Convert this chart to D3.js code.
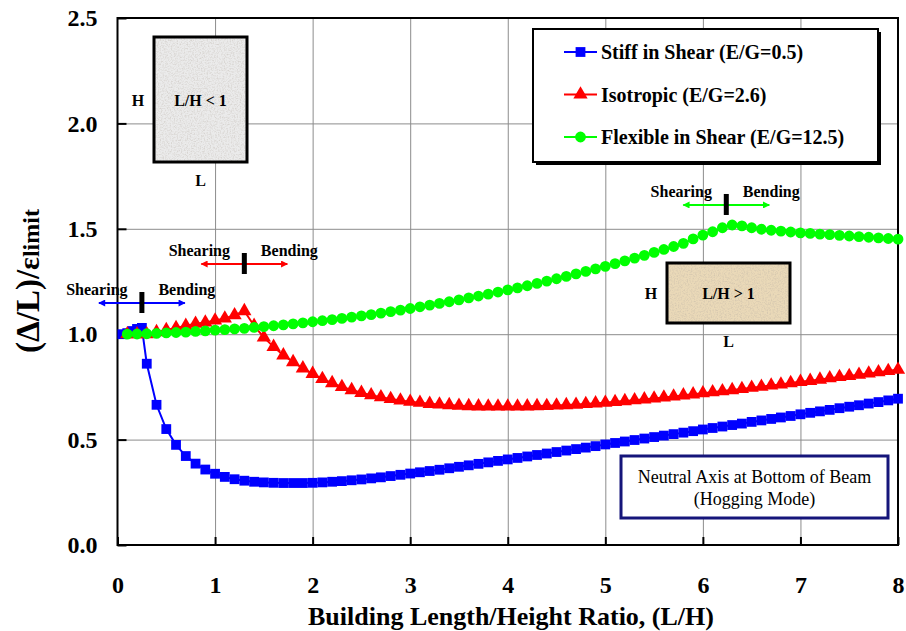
<!DOCTYPE html>
<html>
<head>
<meta charset="utf-8">
<script src="https://cdn.jsdelivr.net/npm/d3@7"></script>
<style>
  body { margin: 0; background: #fff; }
  svg { display: block; font-family: 'Liberation Serif', 'Times New Roman', serif; }
</style>
</head>
<body>
<svg width="906" height="631"></svg>
<script>
// L/H ratios (0.1 steps)
const ratio = [
  0.1, 0.2, 0.3, 0.4, 0.5, 0.6, 0.7, 0.8, 0.9,
  1.0, 1.1, 1.2, 1.3, 1.4, 1.5, 1.6, 1.7, 1.8, 1.9,
  2.0, 2.1, 2.2, 2.3, 2.4, 2.5, 2.6, 2.7, 2.8, 2.9,
  3.0, 3.1, 3.2, 3.3, 3.4, 3.5, 3.6, 3.7, 3.8, 3.9,
  4.0, 4.1, 4.2, 4.3, 4.4, 4.5, 4.6, 4.7, 4.8, 4.9,
  5.0, 5.1, 5.2, 5.3, 5.4, 5.5, 5.6, 5.7, 5.8, 5.9,
  6.0, 6.1, 6.2, 6.3, 6.4, 6.5, 6.6, 6.7, 6.8, 6.9,
  7.0, 7.1, 7.2, 7.3, 7.4, 7.5, 7.6, 7.7, 7.8, 7.9,
  8.0
]
const stiffX = [0.05, 0.1, 0.15, 0.2, 0.25].concat(ratio.slice(2))
const stiffY = [
  1.000, 1.005, 1.015, 1.025, 1.030,
  0.860, 0.665, 0.550, 0.475, 0.422, 0.386, 0.358,
  0.338, 0.323, 0.312, 0.305, 0.300, 0.297, 0.295, 0.294, 0.294, 0.294,
  0.295, 0.297, 0.300, 0.303, 0.307, 0.311, 0.316, 0.321, 0.327, 0.333,
  0.339, 0.345, 0.351, 0.357, 0.364, 0.371, 0.378, 0.385, 0.392, 0.399,
  0.406, 0.413, 0.420, 0.427, 0.434, 0.441, 0.448, 0.455, 0.462, 0.469,
  0.477, 0.484, 0.491, 0.498, 0.505, 0.512, 0.519, 0.526, 0.533, 0.540,
  0.548, 0.555, 0.562, 0.569, 0.576, 0.584, 0.591, 0.598, 0.605, 0.612,
  0.620, 0.627, 0.634, 0.641, 0.649, 0.656, 0.663, 0.671, 0.678, 0.686,
  0.694
]
const isoY = [
  1.000, 1.000, 1.000, 1.010, 1.020, 1.030, 1.040, 1.050, 1.056,
  1.065, 1.075, 1.090, 1.110, 1.040, 0.985, 0.940, 0.900, 0.868, 0.838,
  0.812, 0.788, 0.768, 0.750, 0.735, 0.722, 0.711, 0.701, 0.693, 0.686,
  0.680, 0.675, 0.670, 0.667, 0.664, 0.661, 0.659, 0.658, 0.657, 0.657,
  0.657, 0.657, 0.658, 0.659, 0.660, 0.662, 0.664, 0.666, 0.669, 0.672,
  0.675, 0.679, 0.683, 0.687, 0.691, 0.695, 0.700, 0.705, 0.710, 0.715,
  0.720, 0.725, 0.730, 0.735, 0.740, 0.746, 0.751, 0.757, 0.762, 0.768,
  0.774, 0.779, 0.785, 0.791, 0.797, 0.802, 0.808, 0.814, 0.820, 0.826,
  0.832
]
const flexY = [
  1.000, 1.001, 1.002, 1.004, 1.006, 1.008, 1.010, 1.013, 1.016,
  1.019, 1.022, 1.025, 1.028, 1.032, 1.036, 1.040, 1.044, 1.049, 1.054,
  1.059, 1.064, 1.069, 1.075, 1.081, 1.087, 1.093, 1.100, 1.107, 1.114,
  1.122, 1.130, 1.138, 1.146, 1.154, 1.163, 1.172, 1.181, 1.190, 1.200,
  1.210, 1.220, 1.230, 1.241, 1.252, 1.263, 1.274, 1.286, 1.298, 1.310,
  1.322, 1.335, 1.348, 1.361, 1.374, 1.388, 1.402, 1.416, 1.431, 1.452,
  1.470, 1.486, 1.505, 1.518, 1.514, 1.505, 1.498, 1.493, 1.489, 1.485,
  1.481, 1.478, 1.475, 1.472, 1.469, 1.466, 1.463, 1.460, 1.457, 1.454,
  1.451
]
const seriesNames = ['Stiff in Shear (E/G=0.5)', 'Isotropic (E/G=2.6)', 'Flexible in Shear (E/G=12.5)']
const xTicks = [0, 1, 2, 3, 4, 5, 6, 7, 8]
const yTicks = [0, 0.5, 1.0, 1.5, 2.0, 2.5]
// shearing / bending transition marks: [L/H, level]
const switchX = [0.25, 1.3, 6.24]
const switchY = [1.148, 1.333, 1.613]

const svg = d3.select('svg')
const x = d3.scaleLinear().domain([0, 8]).range([117.5, 898])
const y = d3.scaleLinear().domain([0, 2.5]).range([545, 18])
const font = "'Liberation Serif', 'Times New Roman', serif"

const series = [
  {name: seriesNames[0], xs: stiffX, ys: stiffY, color: '#0000ff', symbol: d3.symbolSquare, size: 96},
  {name: seriesNames[1], xs: ratio, ys: isoY, color: '#ff0000', symbol: d3.symbolTriangle, size: 88},
  {name: seriesNames[2], xs: ratio, ys: flexY, color: '#00ff00', symbol: d3.symbolCircle, size: 92}
]

const defs = svg.append('defs')
// arrow heads
series.forEach((s, i) => {
  defs.append('marker')
    .attr('id', 'arr' + i)
    .attr('viewBox', '0 0 10 10')
    .attr('refX', 9).attr('refY', 5)
    .attr('markerWidth', 8).attr('markerHeight', 7)
    .attr('markerUnits', 'userSpaceOnUse')
    .attr('orient', 'auto-start-reverse')
    .append('path').attr('d', 'M0,0L10,5L0,10Z').attr('fill', s.color)
})
// speckled paper texture for the building sketches
const grain = defs.append('filter').attr('id', 'grain')
  .attr('x', 0).attr('y', 0).attr('width', 1).attr('height', 1)
grain.append('feTurbulence').attr('type', 'fractalNoise')
  .attr('baseFrequency', 0.7).attr('numOctaves', 2).attr('seed', 4)
grain.append('feColorMatrix').attr('type', 'matrix')
  .attr('values', '0 0 0 0 0.45  0 0 0 0 0.4  0 0 0 0 0.35  0.9 0 0 0 -0.38')
grain.append('feComposite').attr('in2', 'SourceGraphic').attr('operator', 'in')

// grid
svg.append('g')
  .attr('transform', `translate(0,${y(0)})`)
  .call(d3.axisBottom(x).tickValues([1, 2, 3, 4, 5, 6, 7]).tickSize(-(y(0) - y(2.5))).tickFormat(''))
  .call(g => g.select('.domain').remove())
  .selectAll('line').attr('stroke', '#8c8c8c')
svg.append('g')
  .attr('transform', `translate(${x(0)},0)`)
  .call(d3.axisLeft(y).tickValues([0.5, 1.0, 1.5, 2.0]).tickSize(-(x(8) - x(0))).tickFormat(''))
  .call(g => g.select('.domain').remove())
  .selectAll('line').attr('stroke', '#8c8c8c')

// frame
svg.append('rect')
  .attr('x', x(0)).attr('y', y(2.5))
  .attr('width', x(8) - x(0)).attr('height', y(0) - y(2.5))
  .attr('fill', 'none').attr('stroke', '#000').attr('stroke-width', 2)

// axes
const yAxis = svg.append('g')
  .attr('transform', `translate(${x(0)},0)`)
  .call(d3.axisLeft(y).tickValues(yTicks).tickFormat(d3.format('.1f')).tickSize(-9).tickPadding(20))
const xAxis = svg.append('g')
  .attr('transform', `translate(0,${y(0)})`)
  .call(d3.axisBottom(x).tickValues(xTicks).tickFormat(d3.format('d')).tickSize(-8).tickPadding(31))
;[xAxis, yAxis].forEach(a => {
  a.attr('font-family', font).attr('font-size', 24).attr('font-weight', 'bold')
  a.select('.domain').remove()
  a.selectAll('line').attr('stroke', '#000').attr('stroke-width', 2)
  a.selectAll('text').attr('fill', '#000')
})

// axis titles
svg.append('text')
  .attr('x', 511).attr('y', 625)
  .attr('text-anchor', 'middle')
  .attr('font-size', 26).attr('font-weight', 'bold')
  .text('Building Length/Height Ratio, (L/H)')
const yTitle = svg.append('text')
  .attr('transform', 'translate(39,281) rotate(-90)')
  .attr('text-anchor', 'middle')
  .attr('font-weight', 'bold')
yTitle.append('tspan').attr('font-size', 33).text('(Δ/L)/')
yTitle.append('tspan').attr('font-size', 30).text('ε')
yTitle.append('tspan').attr('font-size', 24).text('limit')

// box sketches
function sketch (bx, by, bw, bh, fill, label) {
  svg.append('rect').attr('x', bx).attr('y', by).attr('width', bw).attr('height', bh)
    .attr('fill', fill)
  svg.append('rect').attr('x', bx).attr('y', by).attr('width', bw).attr('height', bh)
    .attr('fill', '#fff').attr('filter', 'url(#grain)')
  svg.append('rect').attr('x', bx).attr('y', by).attr('width', bw).attr('height', bh)
    .attr('fill', 'none').attr('stroke', '#000').attr('stroke-width', 3)
  svg.append('text').attr('x', bx + bw / 2).attr('y', by + bh / 2 + 6)
    .attr('text-anchor', 'middle').attr('font-size', 16).attr('font-weight', 'bold').text(label)
  svg.append('text').attr('x', bx - 16).attr('y', by + bh / 2 + 6)
    .attr('text-anchor', 'middle').attr('font-size', 16).attr('font-weight', 'bold').text('H')
  svg.append('text').attr('x', bx + bw / 2).attr('y', by + bh + 24)
    .attr('text-anchor', 'middle').attr('font-size', 16).attr('font-weight', 'bold').text('L')
}
sketch(154, 37, 93, 125, '#ebebeb', 'L/H < 1')
sketch(667, 263, 123, 60, '#ead9b8', 'L/H > 1')

// shearing / bending marks
series.forEach((s, i) => {
  const cx = x(switchX[i])
  const cy = y(switchY[i])
  svg.append('line')
    .attr('x1', cx).attr('x2', cx - 43).attr('y1', cy).attr('y2', cy)
    .attr('stroke', s.color).attr('stroke-width', 2).attr('marker-end', `url(#arr${i})`)
  svg.append('line')
    .attr('x1', cx).attr('x2', cx + 43).attr('y1', cy).attr('y2', cy)
    .attr('stroke', s.color).attr('stroke-width', 2).attr('marker-end', `url(#arr${i})`)
  svg.append('rect').attr('x', cx - 2.5).attr('y', cy - 11).attr('width', 5).attr('height', 21).attr('fill', '#000')
  svg.append('text').attr('x', cx - 45).attr('y', cy - 8)
    .attr('text-anchor', 'middle').attr('font-size', 16).attr('font-weight', 'bold').text('Shearing')
  svg.append('text').attr('x', cx + 45).attr('y', cy - 8)
    .attr('text-anchor', 'middle').attr('font-size', 16).attr('font-weight', 'bold').text('Bending')
})

// series
const line = d3.line().x(d => x(d[0])).y(d => y(d[1]))
series.forEach(s => {
  const pts = s.xs.map((v, k) => [v, s.ys[k]])
  const g = svg.append('g')
  g.append('path').datum(pts)
    .attr('d', line).attr('fill', 'none').attr('stroke', s.color).attr('stroke-width', 2)
  g.selectAll('path.m').data(pts).join('path')
    .attr('class', 'm')
    .attr('d', d3.symbol(s.symbol, s.size))
    .attr('transform', d => `translate(${x(d[0])},${y(d[1])})`)
    .attr('fill', s.color)
})

// legend
svg.append('rect').attr('x', 536).attr('y', 32).attr('width', 345).attr('height', 133).attr('fill', '#000')
svg.append('rect').attr('x', 533).attr('y', 29).attr('width', 345).attr('height', 133)
  .attr('fill', '#fff').attr('stroke', '#000').attr('stroke-width', 2)
series.forEach((s, i) => {
  const ly = 52 + i * 42.5
  svg.append('line').attr('x1', 564).attr('x2', 597).attr('y1', ly).attr('y2', ly)
    .attr('stroke', s.color).attr('stroke-width', 2)
  svg.append('path').attr('d', d3.symbol(s.symbol, s.size))
    .attr('transform', `translate(580.5,${ly})`).attr('fill', s.color)
  svg.append('text').attr('x', 601).attr('y', ly + 7)
    .attr('font-size', 20).attr('font-weight', 'bold').text(s.name)
})

// note box
svg.append('rect').attr('x', 621).attr('y', 456).attr('width', 267).attr('height', 62)
  .attr('fill', '#fff').attr('stroke', '#15157a').attr('stroke-width', 3)
svg.append('text').attr('x', 754.5).attr('y', 483).attr('text-anchor', 'middle')
  .attr('font-size', 18).text('Neutral Axis at Bottom of Beam')
svg.append('text').attr('x', 754.5).attr('y', 505).attr('text-anchor', 'middle')
  .attr('font-size', 18).text('(Hogging Mode)')
</script>
</body>
</html>
